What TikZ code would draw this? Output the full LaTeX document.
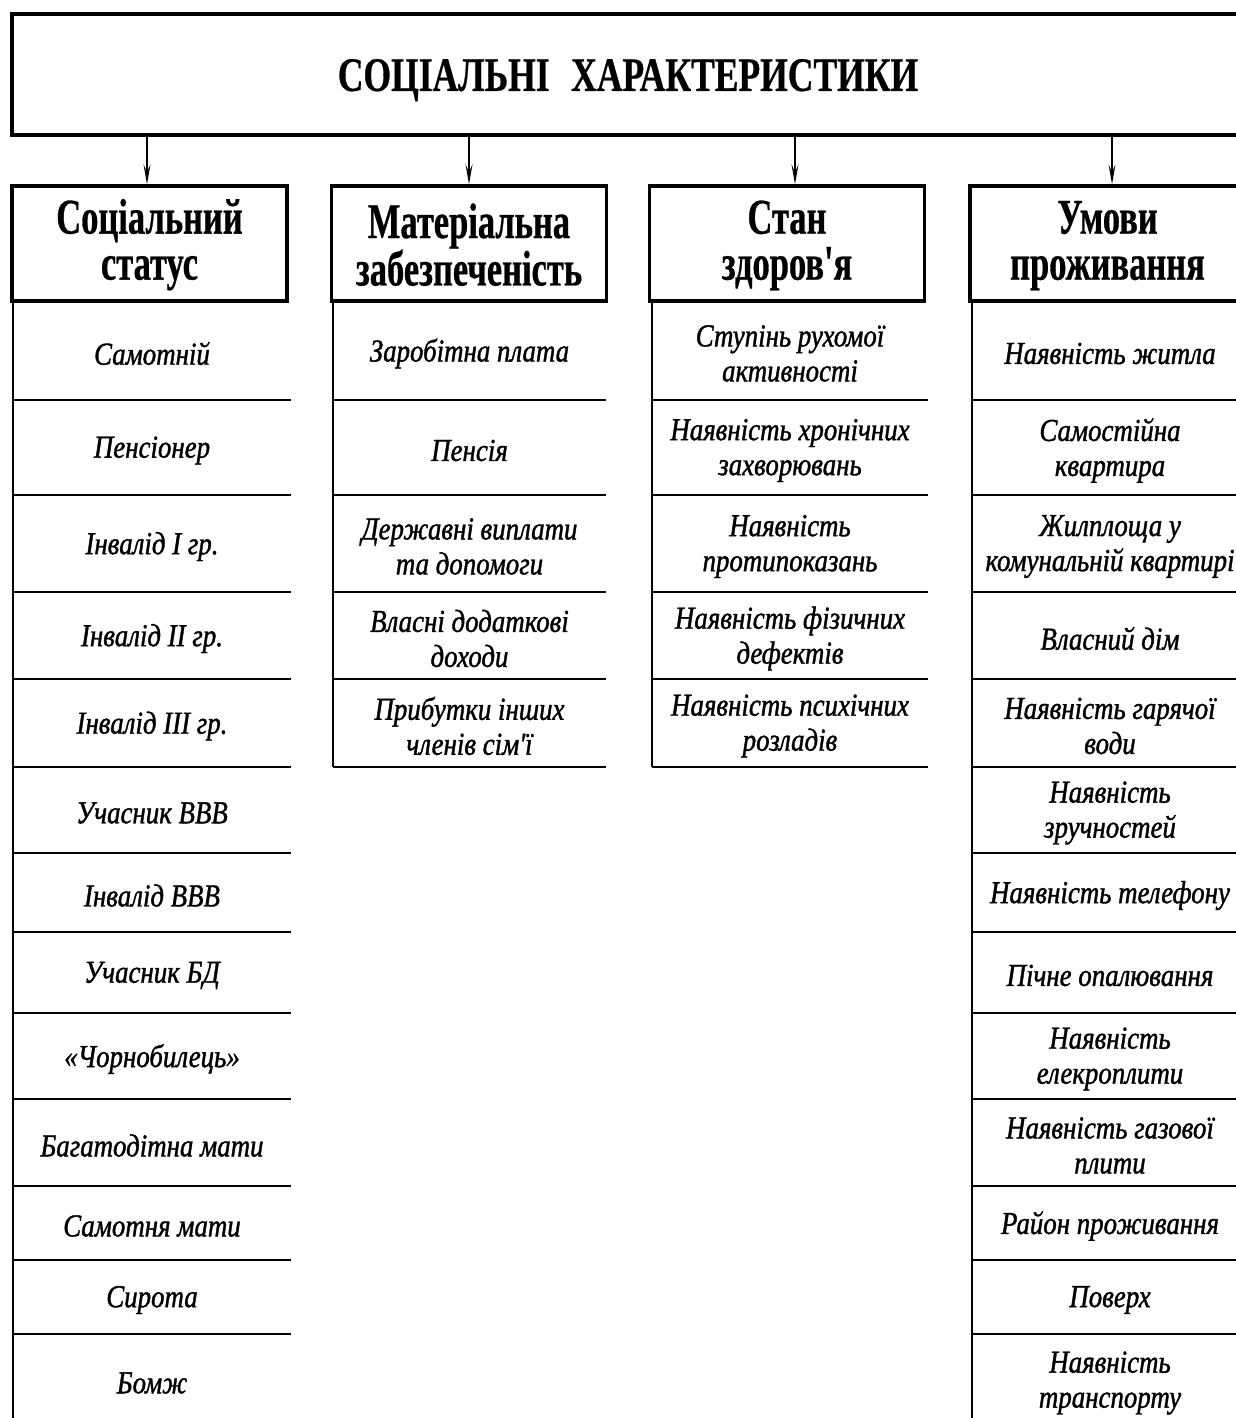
\documentclass[tikz,border=0pt]{standalone}
\usepackage{fontspec}
\setmainfont{Liberation Serif}
\newfontfamily\titlefont[FakeStretch=0.74,FakeBold=0.6]{Liberation Serif}
\newfontfamily\headfont[FakeStretch=0.69,FakeBold=0.6]{Liberation Serif}
\newfontfamily\itemfont[FakeStretch=0.84,FakeBold=1.2]{Liberation Serif}
\usetikzlibrary{arrows.meta}
\begin{document}
\begin{tikzpicture}[x=1pt,y=-1pt,
  titlebox/.style={draw, line width=4pt, minimum width=1232pt, minimum height=121pt,
    inner sep=0pt, text depth=0pt, font=\titlefont\bfseries\fontsize{48}{50}\selectfont},
  headbox/.style={draw, line width=3.5pt, minimum width=275pt, minimum height=115pt,
    inner sep=0pt, align=center, font=\headfont\bfseries\fontsize{50}{46}\selectfont},
  item/.style={inner sep=0pt, align=center, yshift=-3pt,
    font=\itemfont\itshape\fontsize{32}{35}\selectfont},
  rowrule/.style={line width=2.5pt},
  colrule/.style={line width=2pt},
  feed/.style={line width=1.5pt, -{Stealth[length=20pt,width=7pt,inset=8pt]}}
]
\useasboundingbox (0,0) rectangle (1236,1418);
\clip (0,0) rectangle (1236,1418);

% title
\node[titlebox] (title) at (628,75) {СОЦІАЛЬНІ\hspace{0.45em}ХАРАКТЕРИСТИКИ};

% group headers
\node[headbox] (h1) at (149.5,243.5) {\rule{0pt}{37pt}Соціальний\\статус};
\node[headbox] (h2) at (469,243.5) {\rule{0pt}{37pt}Матеріальна\\забезпеченість};
\node[headbox] (h3) at (787,243.5) {\rule{0pt}{37pt}Стан\\здоров'я};
\node[headbox] (h4) at (1107.5,243.5) {\rule{0pt}{37pt}Умови\\проживання};

% feeds from the title
\coordinate (a1) at (147,0);
\coordinate (a2) at (469,0);
\coordinate (a3) at (795,0);
\coordinate (a4) at (1112,0);
\foreach \k in {1,2,3,4}
  \draw[feed] (title.south -| a\k) -- (h\k.north -| a\k);

% table rules
\draw[colrule] (13,301) -- (13,1418);
\draw[colrule] (333,301) -- (333,767);
\draw[colrule] (652,301) -- (652,767);
\draw[colrule] (972,301) -- (972,1418);
\foreach \y in {400,495,592,679,767,853,932,1013,1099,1186,1260,1334} {
  \draw[rowrule] (13,\y) -- (291,\y);
  \draw[rowrule] (972,\y) -- (1240,\y);
}
\foreach \y in {400,495,592,679,767} {
  \draw[rowrule] (333,\y) -- (606,\y);
  \draw[rowrule] (652,\y) -- (928,\y);
}

% row entries
\def\rowc{{350.5,447.5,543.5,635.5,723,810,892.5,972.5,1056,1142.5,1223,1297,1380}}
\foreach \t [count=\i] in {Самотній, Пенсіонер, Інвалід І гр., Інвалід ІІ гр.,
    Інвалід ІІІ гр., Учасник ВВВ, Інвалід ВВВ, Учасник БД, «Чорнобилець»,
    Багатодітна мати, Самотня мати, Сирота, Бомж} {
  \pgfmathsetmacro\yc{\rowc[\i-1]}
  \node[item] (s\i) at (152,\yc) {\t};
}
\foreach \t [count=\i] in {Заробітна плата, Пенсія, {Державні виплати\\та допомоги},
    {Власні додаткові\\доходи}, {Прибутки інших\\членів сім'ї}} {
  \pgfmathsetmacro\yc{\rowc[\i-1]}
  \node[item] (m\i) at (469.5,\yc) {\t};
}
\foreach \t [count=\i] in {{Ступінь рухомої\\активності}, {Наявність хронічних\\захворювань},
    {Наявність\\протипоказань}, {Наявність фізичних\\дефектів},
    {Наявність психічних\\розладів}} {
  \pgfmathsetmacro\yc{\rowc[\i-1]}
  \node[item] (z\i) at (790,\yc) {\t};
}
\foreach \t [count=\i] in {Наявність житла, {Самостійна\\квартира},
    {Жилплоща у\\комунальній квартирі}, Власний дім, {Наявність гарячої\\води},
    {Наявність\\зручностей}, Наявність телефону, Пічне опалювання,
    {Наявність\\елекроплити}, {Наявність газової\\плити}, Район проживання,
    Поверх, {Наявність\\транспорту}} {
  \pgfmathsetmacro\yc{\rowc[\i-1]}
  \node[item] (u\i) at (1110,\yc) {\t};
}
\end{tikzpicture}
\end{document}
